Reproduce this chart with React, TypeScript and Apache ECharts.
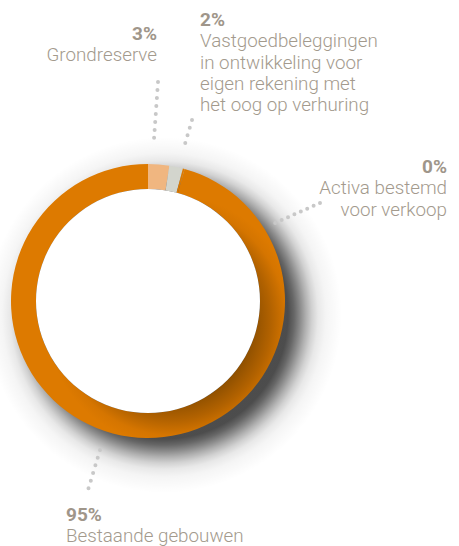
import React, { useEffect, useRef } from "react";
import * as echarts from "echarts";

const categories = [
  "Grondreserve",
  "Vastgoedbeleggingen\nin ontwikkeling voor\neigen rekening met\nhet oog op verhuring",
  "Activa bestemd\nvoor verkoop",
  "Bestaande gebouwen",
];
const values = [2.5, 1.6, 0.2, 95.7];
const pctLabels = ["3%", "2%", "0%", "95%"];

const CX = 148;
const CY = 301;
const R_IN = 112;
const R_OUT = 137;

const mainRing = {
  type: "radial",
  x: 171,
  y: 320,
  r: 125,
  global: true,
  colorStops: [
    { offset: 0, color: "#7a4500" },
    { offset: 0.66, color: "#8f5000" },
    { offset: 0.8, color: "#b26200" },
    { offset: 0.92, color: "#d57500" },
    { offset: 1, color: "#dd7a00" },
  ],
};
const sliceColors: any[] = ["#f0b680", "#d3d5cd", "#dd7a00", mainRing];

const SH_R = 178;
const shadowStop = (d: number, a: number) => ({
  offset: d / SH_R,
  color: `rgba(0,0,0,${a})`,
});
const shadowFill = {
  type: "radial",
  x: CX + 16,
  y: CY + 14,
  r: SH_R,
  global: true,
  colorStops: [
    shadowStop(0, 0.72),
    shadowStop(124, 0.7),
    shadowStop(130, 0.6),
    shadowStop(136, 0.46),
    shadowStop(142, 0.31),
    shadowStop(148, 0.18),
    shadowStop(154, 0.09),
    shadowStop(162, 0.04),
    shadowStop(178, 0),
  ],
};

const labelLayout = [
  { x: 157, y: 40, align: "right", gap: 22 },
  { x: 200, y: 26, align: "left", gap: 22 },
  { x: 447, y: 173, align: "right", gap: 22 },
  { x: 66, y: 521, align: "left", gap: 22 },
];
const dotLayout = [
  { x1: 158, y1: 82, x2: 154, y2: 139, step: 8 },
  { x1: 192, y1: 120, x2: 185, y2: 144, step: 8 },
  { x1: 320, y1: 203, x2: 275, y2: 223, step: 7 },
  { x1: 100, y1: 450, x2: 88, y2: 490, step: 8 },
];

const PCT_SIZE = 19;
const NAME_SIZE = 18.8;
const LINE_H = 21.3;

export default function App() {
  const ref = useRef<HTMLDivElement>(null);
  useEffect(() => {
    if (!ref.current) return;
    const chart = echarts.init(ref.current, null, { renderer: "svg" });
    const graphics: any[] = [];
    categories.forEach((name, i) => {
      const L = labelLayout[i];
      graphics.push({
        type: "text",
        z: 100,
        style: {
          text: pctLabels[i],
          x: L.x,
          y: L.y - PCT_SIZE * 0.36,
          fill: "#9f968a",
          font: `bold ${PCT_SIZE}px Roboto`,
          lineHeight: PCT_SIZE,
          textAlign: L.align,
          textVerticalAlign: "middle",
        },
      });
      name.split("\n").forEach((line, j) => {
        graphics.push({
          type: "text",
          z: 100,
          style: {
            text: line,
            x: L.x,
            y: L.y + L.gap + j * LINE_H - NAME_SIZE * 0.36,
            fill: "#a39a8d",
            font: `300 ${NAME_SIZE}px Roboto`,
            lineHeight: NAME_SIZE,
            textAlign: L.align,
            textVerticalAlign: "middle",
          },
        });
      });
      const D = dotLayout[i];
      graphics.push({
        type: "line",
        z: 100,
        shape: { x1: D.x1, y1: D.y1, x2: D.x2, y2: D.y2 },
        style: {
          stroke: "#c8c8c8",
          lineWidth: 4,
          lineCap: "round",
          lineDash: [0, D.step],
        },
      });
    });

    chart.setOption({
      animation: false,
      backgroundColor: "#ffffff",
      series: [
        {
          type: "pie",
          center: [CX + 16, CY + 14],
          radius: [0, SH_R],
          silent: true,
          label: { show: false },
          labelLine: { show: false },
          itemStyle: { color: shadowFill as any, borderWidth: 0 },
          data: [{ name: "shadow", value: 1 }],
        },
        {
          type: "pie",
          center: [CX, CY],
          radius: [R_IN, R_OUT],
          startAngle: 90,
          clockwise: true,
          silent: true,
          label: { show: false },
          labelLine: { show: false },
          itemStyle: { borderWidth: 0 },
          data: categories.map((c, i) => ({
            name: c,
            value: values[i],
            itemStyle: { color: sliceColors[i] },
          })),
        },
        {
          type: "pie",
          center: [CX, CY],
          radius: [0, R_IN],
          silent: true,
          label: { show: false },
          labelLine: { show: false },
          itemStyle: { color: "#ffffff", borderWidth: 0 },
          data: [{ name: "hole", value: 1 }],
        },
      ],
      graphic: graphics,
    });
    return () => chart.dispose();
  }, []);
  return (
    <div
      ref={ref}
      style={{ position: "fixed", left: 0, top: 0, width: 459, height: 546 }}
    />
  );
}
